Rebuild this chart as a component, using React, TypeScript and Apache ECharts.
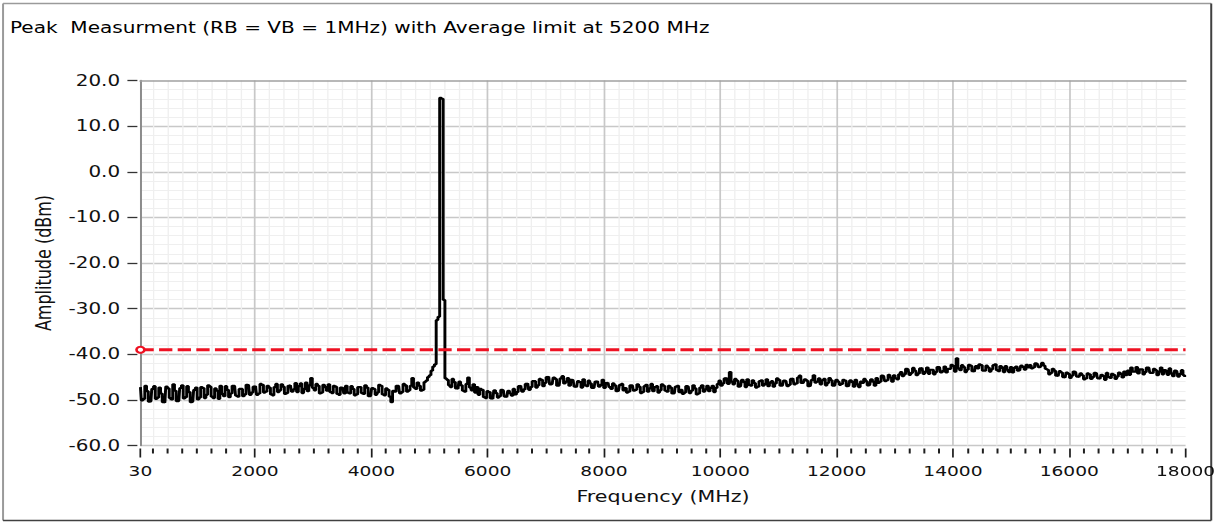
import React, { useEffect, useRef } from "react";
import * as echarts from "echarts";

// ---- data ----
const TITLE = "Peak  Measurment (RB = VB = 1MHz) with Average limit at 5200 MHz";
const X_NAME = "Frequency (MHz)";
const Y_NAME = "Amplitude (dBm)";

const FREQ_MIN = 30;
const FREQ_MAX = 18000;
const AMP_MIN = -60;
const AMP_MAX = 20;

// sweep: 600 points, 30 MHz start, 30 MHz apart (30 .. 18000 MHz)
const SWEEP_START = 30;
const SWEEP_STEP = 30;

// 30 .. 5100 MHz
const lowBand = [
  -47.2, -50.1, -49.8, -46.9, -48.1, -50.4, -50.3, -47.6, -47.0, -49.8,
  -49.5, -47.3, -48.6, -50.5, -50.6, -47.1, -47.5, -49.6, -49.9, -46.6,
  -48.0, -50.3, -50.2, -47.4, -46.8, -49.7, -49.4, -47.0, -48.3, -50.5, -50.4, -47.8, -47.3, -49.9,
  -49.5, -47.2, -47.4, -49.6, -48.9, -46.8, -47.1, -49.3, -49.6, -47.5, -48.0, -49.8, -46.9, -48.7, -49.2, -47.0,
  -47.8, -49.4, -48.6, -46.9, -47.0, -49.1, -49.3, -47.6, -47.6, -49.2, -48.8, -46.7, -46.8, -48.9, -48.4, -47.1,
  -47.0, -48.9, -48.6, -46.5, -46.7, -48.4, -48.2, -46.9, -47.3, -48.8, -49.0, -47.2, -46.5, -48.3, -47.9, -46.6,
  -47.1, -48.7, -48.5, -46.9, -46.8, -48.2, -47.7, -46.3, -48.3, -47.0, -46.4, -48.5, -47.6, -46.2, -48.1, -46.8,
  -45.2, -47.4, -47.9, -46.5, -46.9, -48.6, -48.4, -46.7, -47.2, -48.0, -46.6, -48.3,
  -48.5, -46.9, -47.1, -48.7, -48.9, -47.3, -47.4, -48.6, -46.9, -48.4, -48.6, -47.0, -47.6, -49.0, -48.8, -47.2, -47.2, -48.5,
  -48.7, -46.8, -47.3, -49.2, -49.1, -47.4, -47.6, -48.9, -48.4, -46.7, -46.9, -48.8, -49.0, -47.5, -47.8, -49.3, -50.5, -48.0, -48.2, -46.9,
  -47.0, -48.6, -48.3, -46.5, -46.8, -48.2, -47.9, -46.9,
  -45.2, -47.3, -47.6, -46.2, -46.9, -48.0, -47.8, -46.1, -45.8, -45.0, -44.6, -43.6, -42.7, -42.2,
];

// 5130 .. 5280 MHz (carrier at 5200 MHz)
const peakBand = [-32.5, -31.8, 16.2, 16.0, -28.1, -45.3];

// 5310 .. 13080 MHz
const midBand = [
  -45.6, -46.8, -47.2, -45.4, -46.1, -47.5, -47.6, -46.0,
  -46.8, -48.0, -48.2, -46.5, -45.1, -47.3, -47.9, -46.6, -48.4, -47.2,
  -48.9, -47.6, -47.8, -49.4, -49.6, -48.1, -48.3, -49.7, -49.8, -47.9, -48.5, -49.5, -49.2, -47.8, -47.9, -49.3, -49.4, -48.0, -48.6, -49.1,
  -47.6, -48.8, -48.3, -47.0, -46.9, -48.2, -47.7, -46.5, -46.4, -47.8, -47.2, -45.9, -45.9, -47.3, -46.8, -45.4, -45.6, -47.0,
  -46.3, -45.0, -44.9, -46.6, -46.5, -45.1, -45.4, -46.9, -46.8, -45.3, -44.8, -46.4, -46.0, -45.2,
  -46.9, -45.6, -45.7, -47.1, -47.2, -45.9, -46.1, -47.3, -45.5, -46.8, -47.0, -45.8,
  -46.4, -47.4, -47.3, -46.0, -45.9, -47.1, -46.7, -45.6, -47.4, -46.3, -46.2, -47.2,
  -47.6, -46.4, -46.8, -48.1, -48.0, -46.7, -46.5, -47.9, -47.4, -48.4, -48.2, -46.8, -46.9, -48.0, -47.8, -46.6,
  -47.1, -48.5, -48.3, -47.0, -46.7, -48.2, -47.5, -46.5, -48.1, -47.2, -47.0, -48.4, -47.9, -46.6, -46.9, -48.0,
  -48.2, -46.9, -47.3, -48.6, -48.5, -47.1, -46.9, -48.3, -47.8, -48.7, -48.4, -47.0, -47.1, -48.5, -48.0,
  -46.8, -47.5, -48.8, -48.6, -47.3, -46.8, -48.2, -47.7, -46.9, -48.1, -47.4, -46.9, -48.3, -47.4, -46.5,
  -45.8, -46.9, -46.4, -45.3, -45.2, -46.5, -43.9, -46.0,
  -46.6, -45.4, -45.8, -47.1, -47.0, -45.6, -46.1, -47.2, -45.5, -46.7, -46.9, -45.7, -46.3, -47.3, -47.1,
  -45.9, -45.7, -46.9, -46.5, -45.5, -47.0, -46.2, -45.9, -47.1, -46.4, -45.3, -45.6, -46.9, -46.8, -45.8,
  -45.9, -47.0, -46.7, -45.4, -45.3, -46.6, -46.4, -45.1, -44.7, -46.3, -46.2, -45.5, -45.8, -47.0, -46.9, -45.6,
  -44.6, -46.2, -46.0, -45.3, -46.6, -45.7, -45.4, -46.8, -46.3, -45.2, -45.7, -46.9, -46.8, -45.6, -46.0, -46.7,
  -46.5, -45.6, -45.8, -47.0, -46.9, -45.7, -46.1, -47.1, -45.6, -46.6, -47.2, -46.0, -46.3, -45.4, -45.9, -46.8,
  -46.7, -45.5, -46.0, -46.9,
  -45.2, -46.3, -46.0, -44.7, -44.8, -45.9, -45.7, -44.5, -45.1, -46.0, -44.6, -45.3, -45.5, -44.4,
];

// 13110 .. 18000 MHz
const highBand = [
  -43.9, -44.8, -44.4, -43.2, -43.3, -44.5, -44.1, -43.0, -43.6, -44.6, -44.2, -43.1, -43.0, -44.3,
  -43.8, -42.9, -44.3, -43.4, -43.4, -44.4, -43.9, -42.8, -42.9, -44.0, -43.7, -42.7, -44.0, -43.2,
  -43.2, -42.3, -42.6, -43.8, -40.9, -43.1, -43.5, -42.4, -42.8, -43.9, -43.4, -42.3, -42.5, -43.7,
  -43.8, -42.6, -43.1, -42.2, -42.4, -43.6, -43.6, -42.5, -42.9, -43.8, -43.3, -42.4, -42.2, -43.5,
  -43.7, -42.6, -43.0, -43.9, -42.6, -43.4, -43.9, -42.8, -44.0, -43.0, -42.7, -43.6, -43.5, -42.5,
  -42.8, -43.4, -42.3, -42.9,
  -42.4, -43.1, -42.9, -42.0, -42.1, -42.8, -42.7, -41.9, -42.5, -43.2,
  -43.4, -44.4, -44.1, -43.2, -43.6, -44.7, -44.8, -43.7, -44.0, -45.0, -45.1, -44.0, -44.3, -45.2, -44.7, -43.8, -43.9, -44.9, -45.0, -44.2,
  -44.6, -45.5, -45.3, -44.2, -44.4, -45.4, -45.0, -44.1, -44.2, -45.3, -45.4, -44.5, -44.8,
  -45.6, -44.1, -45.0, -45.2, -44.3, -44.5, -45.4, -44.9, -44.0, -44.3, -45.1, -43.8, -44.6,
  -43.6, -44.5, -42.9, -43.8, -43.8, -42.8, -44.2, -43.3, -43.3, -44.4, -43.9, -42.9, -43.0,
  -44.1, -44.1, -43.2, -43.5, -44.6, -43.8, -42.9, -44.4, -43.5, -43.6, -44.5, -43.1, -44.2,
  -44.8, -43.6, -43.7, -44.9, -44.3, -43.5, -44.6, -45.0,
];

const AVERAGE_LIMIT = -39;

// ---- layout (the reference picture is stretched horizontally) ----
const PAGE_W = 1214;
const PAGE_H = 523;
const STRETCH_X = 1.33;
const CHART_W = PAGE_W / STRETCH_X;
const FONT = "DejaVu Sans";

export default function App() {
  const ref = useRef<HTMLDivElement>(null);

  useEffect(() => {
    document.body.style.margin = "0";
    const el = ref.current;
    if (!el) return;
    const chart = echarts.init(el, null, { renderer: "svg", width: CHART_W, height: PAGE_H });

    const amplitudes = [...lowBand, ...peakBand, ...midBand, ...highBand];
    const trace = amplitudes.map((a, i) => [SWEEP_START + i * SWEEP_STEP, a]);
    const limit = [
      { value: [FREQ_MIN, AVERAGE_LIMIT] },
      { value: [FREQ_MAX, AVERAGE_LIMIT], symbol: "none" },
    ];

    const gridLeft = 105.6;
    const gridRight = CHART_W - 891.4;

    chart.setOption({
      animation: false,
      backgroundColor: "#ffffff",
      grid: {
        left: gridLeft,
        right: gridRight,
        top: 80.5,
        bottom: PAGE_H - 445.5,
        containLabel: false,
        outerBoundsMode: "none",
      },
      xAxis: [
        {
          type: "value",
          min: FREQ_MIN,
          max: FREQ_MAX,
          splitNumber: 9,
          minInterval: 2000,
          maxInterval: 2000,
          position: "bottom",
          offset: 3,
          axisLine: { show: false, onZero: false },
          axisTick: { show: true, length: 9, lineStyle: { color: "#1e1e1e", width: 1.3 } },
          minorTick: { show: true, splitNumber: 8, length: 5, lineStyle: { color: "#1e1e1e", width: 1.5 } },
          axisLabel: {
            margin: 16,
            color: "#111",
            fontFamily: FONT,
            fontSize: 14,
            interval: 0,
            showMinLabel: true,
            showMaxLabel: true,
            hideOverlap: false,
            formatter: (v: number) => String(v),
          },
          splitLine: { show: true, showMinLine: false, showMaxLine: false, lineStyle: { color: "#c8c8c8", width: 1.3 } },
          minorSplitLine: { show: true, lineStyle: { color: "#efefef", width: 1 } },
          name: X_NAME,
          nameLocation: "middle",
          nameGap: 40,
          nameTextStyle: { fontFamily: FONT, fontSize: 15.5, color: "#111" },
        },
        {
          type: "value",
          min: FREQ_MIN,
          max: FREQ_MAX,
          position: "top",
          axisLine: { show: true, onZero: false, lineStyle: { color: "#a0a0a0", width: 1.7 } },
          axisTick: { show: false },
          axisLabel: { show: false },
          splitLine: { show: false },
        },
      ],
      yAxis: [
        {
          type: "value",
          min: AMP_MIN,
          max: AMP_MAX,
          interval: 10,
          position: "left",
          offset: 2.3,
          axisLine: { show: false, onZero: false },
          axisTick: { show: true, length: 7.5, lineStyle: { color: "#333", width: 1.3 } },
          axisLabel: {
            margin: 13,
            color: "#111",
            fontFamily: FONT,
            fontSize: 15,
            formatter: (v: number) => v.toFixed(1),
          },
          splitLine: { show: true, showMaxLine: false, lineStyle: { color: "#c8c8c8", width: 1.3 } },
          minorTick: { show: false, splitNumber: 5 },
          minorSplitLine: { show: true, lineStyle: { color: "#efefef", width: 1 } },
          name: Y_NAME,
          nameLocation: "middle",
          nameGap: 62,
          nameRotate: 90,
          nameTextStyle: { fontFamily: FONT, fontSize: 16, color: "#111" },
        },
        {
          type: "value",
          min: AMP_MIN,
          max: AMP_MAX,
          interval: 10,
          position: "left",
          offset: 0,
          axisLine: { show: true, onZero: false, lineStyle: { color: "#8c8c8c", width: 1.5 } },
          axisTick: { show: false },
          axisLabel: { show: false },
          splitLine: { show: false },
        },
      ],
      graphic: [
        {
          type: "text",
          x: 7.5,
          y: 28,
          style: { text: TITLE, fontFamily: FONT, fontSize: 15.1, fill: "#000", verticalAlign: "middle" },
        },
        { type: "line", shape: { x1: 2.3, y1: 3.5, x2: 910.7, y2: 3.5 }, style: { stroke: "#9a9a9a", lineWidth: 1.5 } },
        { type: "line", shape: { x1: 2.3, y1: 3.5, x2: 2.3, y2: 520.5 }, style: { stroke: "#9a9a9a", lineWidth: 1.5 } },
        { type: "line", shape: { x1: 910.7, y1: 3.5, x2: 910.7, y2: 520.5 }, style: { stroke: "#404040", lineWidth: 1.5 } },
        { type: "line", shape: { x1: 2.3, y1: 520.5, x2: 910.7, y2: 520.5 }, style: { stroke: "#404040", lineWidth: 1.5 } },
      ],
      series: [
        {
          type: "line",
          name: "Peak",
          xAxisIndex: 0,
          yAxisIndex: 0,
          data: trace,
          step: "middle",
          symbol: "none",
          showSymbol: false,
          silent: true,
          lineStyle: { color: "#000000", width: 2.2 },
          z: 2,
        },
        {
          type: "line",
          name: "Average limit",
          xAxisIndex: 0,
          yAxisIndex: 0,
          data: limit,
          symbol: "emptyCircle",
          symbolSize: 6,
          showSymbol: true,
          silent: true,
          lineStyle: { color: "#ee1122", width: 3, type: [10, 4] },
          itemStyle: { color: "#ee1122", borderColor: "#ee1122", borderWidth: 1.5 },
          z: 3,
        },
      ],
    });

    return () => chart.dispose();
  }, []);

  return (
    <div style={{ width: PAGE_W, height: PAGE_H, overflow: "hidden", background: "#fff" }}>
      <div
        ref={ref}
        style={{ width: CHART_W, height: PAGE_H, transform: `scaleX(${STRETCH_X})`, transformOrigin: "0 0" }}
      />
    </div>
  );
}
